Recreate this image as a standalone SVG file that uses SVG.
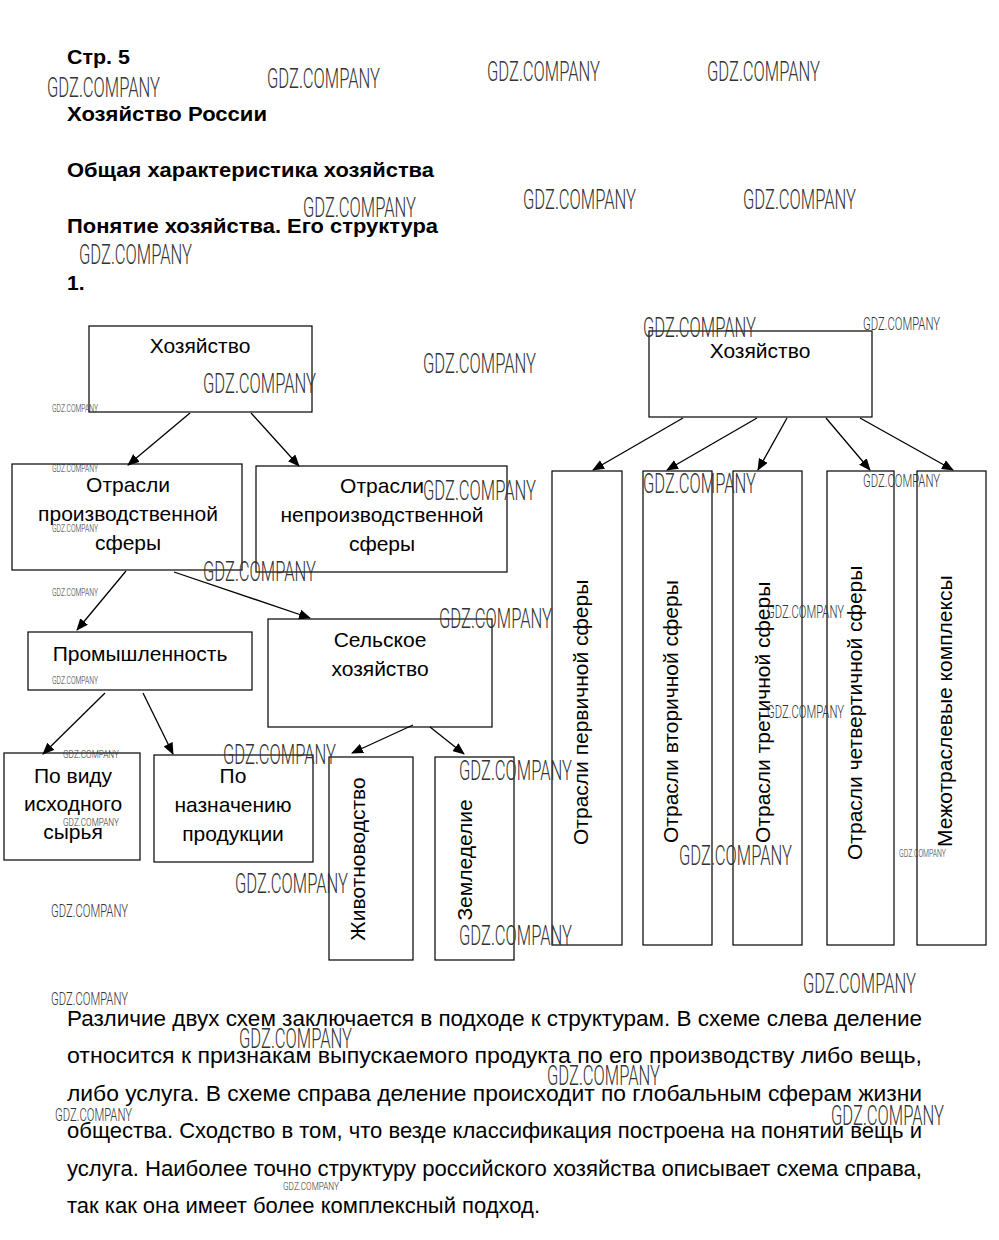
<svg xmlns="http://www.w3.org/2000/svg" width="999" height="1240" viewBox="0 0 999 1240">
<style>
.bg{fill:#fff}
.box{fill:none;stroke:#000;stroke-width:1.2}
.lbl{font-family:"Liberation Sans",Arial,sans-serif;font-size:21px;fill:#000;text-anchor:middle}
.vl{font-family:"Liberation Sans",Arial,sans-serif;font-size:21px;fill:#000}
.hd{font-family:"Liberation Sans",Arial,sans-serif;font-size:21px;font-weight:bold;fill:#000}
.p{font-family:"Liberation Sans",Arial,sans-serif;font-size:22px;fill:#000}
.wl{font-family:Roboto,"DejaVu Sans",sans-serif;font-weight:300;font-size:27px;fill:#333}
.wm{font-family:Roboto,"DejaVu Sans",sans-serif;font-weight:300;font-size:18px;fill:#333}
.ws{font-family:Roboto,"DejaVu Sans",sans-serif;font-weight:300;font-size:10px;fill:#333}
.conn line{stroke:#000;stroke-width:1.3;marker-end:url(#ah)}
</style>
<defs>
<marker id="ah" markerUnits="userSpaceOnUse" markerWidth="12" markerHeight="10" refX="11" refY="5" orient="auto">
<path d="M0,0 L12,5 L0,10 z" fill="#000"/>
</marker>
</defs>
<rect class="bg" x="0" y="0" width="999" height="1240"/>

<g id="header">
<text class="hd" x="67" y="64" textLength="63" lengthAdjust="spacingAndGlyphs">Стр. 5</text>
<text class="hd" x="67" y="121" textLength="200" lengthAdjust="spacingAndGlyphs">Хозяйство России</text>
<text class="hd" x="67" y="177" textLength="367" lengthAdjust="spacingAndGlyphs">Общая характеристика хозяйства</text>
<text class="hd" x="67" y="233" textLength="371" lengthAdjust="spacingAndGlyphs">Понятие хозяйства. Его структура</text>
<text class="hd" x="67" y="290">1.</text>
</g>

<g id="connectors" class="conn">
<line x1="190" y1="413" x2="128" y2="465"/>
<line x1="251" y1="413" x2="299" y2="466"/>
<line x1="126" y1="571" x2="77" y2="630"/>
<line x1="174" y1="572" x2="310" y2="618"/>
<line x1="105" y1="693" x2="43" y2="754"/>
<line x1="143" y1="693" x2="173" y2="754"/>
<line x1="413" y1="725" x2="352" y2="753"/>
<line x1="430" y1="727" x2="464" y2="754"/>
<line x1="683" y1="418" x2="593" y2="470"/>
<line x1="757" y1="418" x2="667" y2="470"/>
<line x1="787" y1="418" x2="758" y2="470"/>
<line x1="826" y1="418" x2="870" y2="470"/>
<line x1="860" y1="418" x2="953" y2="470"/>
</g>

<g id="n-hoz-left">
<rect class="box" x="89" y="326" width="223" height="86"/>
<text class="lbl" x="200" y="353">Хозяйство</text>
</g>
<g id="n-prod">
<rect class="box" x="12" y="464" width="230" height="106"/>
<text class="lbl" x="128" y="492">Отрасли</text>
<text class="lbl" x="128" y="521">производственной</text>
<text class="lbl" x="128" y="550">сферы</text>
</g>
<g id="n-neprod">
<rect class="box" x="256" y="466" width="251" height="106"/>
<text class="lbl" x="382" y="493">Отрасли</text>
<text class="lbl" x="382" y="522">непроизводственной</text>
<text class="lbl" x="382" y="551">сферы</text>
</g>
<g id="n-prom">
<rect class="box" x="28" y="632" width="224" height="58"/>
<text class="lbl" x="140" y="661">Промышленность</text>
</g>
<g id="n-selhoz">
<rect class="box" x="268" y="619" width="224" height="108"/>
<text class="lbl" x="380" y="647">Сельское</text>
<text class="lbl" x="380" y="676">хозяйство</text>
</g>
<g id="n-vid">
<rect class="box" x="4" y="753" width="136" height="107"/>
<text class="lbl" x="73" y="783">По виду</text>
<text class="lbl" x="73" y="811">исходного</text>
<text class="lbl" x="73" y="839">сырья</text>
</g>
<g id="n-naznach">
<rect class="box" x="154" y="755" width="159" height="107"/>
<text class="lbl" x="233" y="783">По</text>
<text class="lbl" x="233" y="812">назначению</text>
<text class="lbl" x="233" y="841">продукции</text>
</g>
<g id="n-zhivot">
<rect class="box" x="329" y="757" width="84" height="203"/>
<text class="vl" text-anchor="middle" transform="translate(365,859) rotate(-90)">Животноводство</text>
</g>
<g id="n-zemled">
<rect class="box" x="435" y="757" width="79" height="203"/>
<text class="vl" text-anchor="middle" transform="translate(472,860) rotate(-90)">Земледелие</text>
</g>

<g id="n-hoz-right">
<rect class="box" x="649" y="331" width="223" height="86"/>
<text class="lbl" x="760" y="358">Хозяйство</text>
</g>
<g id="n-perv">
<rect class="box" x="552" y="471" width="70" height="474"/>
<text class="vl" transform="translate(588,845) rotate(-90)">Отрасли первичной сферы</text>
</g>
<g id="n-vtor">
<rect class="box" x="643" y="471" width="69" height="474"/>
<text class="vl" transform="translate(678,843) rotate(-90)">Отрасли вторичной сферы</text>
</g>
<g id="n-tret">
<rect class="box" x="733" y="471" width="69" height="474"/>
<text class="vl" transform="translate(770,843) rotate(-90)">Отрасли третичной сферы</text>
</g>
<g id="n-chetv">
<rect class="box" x="827" y="471" width="67" height="474"/>
<text class="vl" transform="translate(862,860) rotate(-90)">Отрасли четвертичной сферы</text>
</g>
<g id="n-mezh">
<rect class="box" x="917" y="471" width="69" height="474"/>
<text class="vl" transform="translate(952,847) rotate(-90)">Межотраслевые комплексы</text>
</g>

<g id="paragraph">
<text class="p" x="67" y="1026" textLength="855" lengthAdjust="spacingAndGlyphs">Различие двух схем заключается в подходе к структурам. В схеме слева деление</text>
<text class="p" x="67" y="1063" textLength="855" lengthAdjust="spacingAndGlyphs">относится к признакам выпускаемого продукта по его производству либо вещь,</text>
<text class="p" x="67" y="1101" textLength="855" lengthAdjust="spacingAndGlyphs">либо услуга. В схеме справа деление происходит по глобальным сферам жизни</text>
<text class="p" x="67" y="1138" textLength="855" lengthAdjust="spacingAndGlyphs">общества. Сходство в том, что везде классификация построена на понятии вещь и</text>
<text class="p" x="67" y="1176" textLength="855" lengthAdjust="spacingAndGlyphs">услуга. Наиболее точно структуру российского хозяйства описывает схема справа,</text>
<text class="p" x="67" y="1213" textLength="473" lengthAdjust="spacingAndGlyphs">так как она имеет более комплексный подход.</text>
</g>

<g id="watermarks">
<text class="wl" x="47" y="97" textLength="113" lengthAdjust="spacingAndGlyphs">GDZ.COMPANY</text>
<text class="wl" x="267" y="88" textLength="113" lengthAdjust="spacingAndGlyphs">GDZ.COMPANY</text>
<text class="wl" x="487" y="81" textLength="113" lengthAdjust="spacingAndGlyphs">GDZ.COMPANY</text>
<text class="wl" x="707" y="81" textLength="113" lengthAdjust="spacingAndGlyphs">GDZ.COMPANY</text>
<text class="wl" x="303" y="217" textLength="113" lengthAdjust="spacingAndGlyphs">GDZ.COMPANY</text>
<text class="wl" x="523" y="209" textLength="113" lengthAdjust="spacingAndGlyphs">GDZ.COMPANY</text>
<text class="wl" x="743" y="209" textLength="113" lengthAdjust="spacingAndGlyphs">GDZ.COMPANY</text>
<text class="wl" x="79" y="264" textLength="113" lengthAdjust="spacingAndGlyphs">GDZ.COMPANY</text>
<text class="wl" x="643" y="337" textLength="113" lengthAdjust="spacingAndGlyphs">GDZ.COMPANY</text>
<text class="wl" x="423" y="373" textLength="113" lengthAdjust="spacingAndGlyphs">GDZ.COMPANY</text>
<text class="wl" x="203" y="393" textLength="113" lengthAdjust="spacingAndGlyphs">GDZ.COMPANY</text>
<text class="wl" x="423" y="500" textLength="113" lengthAdjust="spacingAndGlyphs">GDZ.COMPANY</text>
<text class="wl" x="643" y="493" textLength="113" lengthAdjust="spacingAndGlyphs">GDZ.COMPANY</text>
<text class="wl" x="203" y="581" textLength="113" lengthAdjust="spacingAndGlyphs">GDZ.COMPANY</text>
<text class="wl" x="439" y="628" textLength="113" lengthAdjust="spacingAndGlyphs">GDZ.COMPANY</text>
<text class="wl" x="223" y="764" textLength="113" lengthAdjust="spacingAndGlyphs">GDZ.COMPANY</text>
<text class="wl" x="459" y="780" textLength="113" lengthAdjust="spacingAndGlyphs">GDZ.COMPANY</text>
<text class="wl" x="679" y="865" textLength="113" lengthAdjust="spacingAndGlyphs">GDZ.COMPANY</text>
<text class="wl" x="235" y="893" textLength="113" lengthAdjust="spacingAndGlyphs">GDZ.COMPANY</text>
<text class="wl" x="459" y="945" textLength="113" lengthAdjust="spacingAndGlyphs">GDZ.COMPANY</text>
<text class="wl" x="803" y="993" textLength="113" lengthAdjust="spacingAndGlyphs">GDZ.COMPANY</text>
<text class="wl" x="239" y="1048" textLength="113" lengthAdjust="spacingAndGlyphs">GDZ.COMPANY</text>
<text class="wl" x="547" y="1085" textLength="113" lengthAdjust="spacingAndGlyphs">GDZ.COMPANY</text>
<text class="wl" x="831" y="1125" textLength="113" lengthAdjust="spacingAndGlyphs">GDZ.COMPANY</text>
<text class="wm" x="863" y="330" textLength="77" lengthAdjust="spacingAndGlyphs">GDZ.COMPANY</text>
<text class="wm" x="863" y="487" textLength="77" lengthAdjust="spacingAndGlyphs">GDZ.COMPANY</text>
<text class="wm" x="767" y="618" textLength="77" lengthAdjust="spacingAndGlyphs">GDZ.COMPANY</text>
<text class="wm" x="767" y="718" textLength="77" lengthAdjust="spacingAndGlyphs">GDZ.COMPANY</text>
<text class="wm" x="51" y="917" textLength="77" lengthAdjust="spacingAndGlyphs">GDZ.COMPANY</text>
<text class="wm" x="51" y="1005" textLength="77" lengthAdjust="spacingAndGlyphs">GDZ.COMPANY</text>
<text class="wm" x="55" y="1121" textLength="77" lengthAdjust="spacingAndGlyphs">GDZ.COMPANY</text>
<text class="ws" x="52" y="412" textLength="46" lengthAdjust="spacingAndGlyphs">GDZ.COMPANY</text>
<text class="ws" x="52" y="472" textLength="46" lengthAdjust="spacingAndGlyphs">GDZ.COMPANY</text>
<text class="ws" x="52" y="532" textLength="46" lengthAdjust="spacingAndGlyphs">GDZ.COMPANY</text>
<text class="ws" x="52" y="596" textLength="46" lengthAdjust="spacingAndGlyphs">GDZ.COMPANY</text>
<text class="ws" x="52" y="684" textLength="46" lengthAdjust="spacingAndGlyphs">GDZ.COMPANY</text>
<text class="ws" x="899" y="857" textLength="47" lengthAdjust="spacingAndGlyphs">GDZ.COMPANY</text>
<text class="ws" style="font-size:11px" x="63" y="758" textLength="56" lengthAdjust="spacingAndGlyphs">GDZ.COMPANY</text>
<text class="ws" style="font-size:11px" x="63" y="826" textLength="56" lengthAdjust="spacingAndGlyphs">GDZ.COMPANY</text>
<text class="ws" style="font-size:11px" x="283" y="1190" textLength="56" lengthAdjust="spacingAndGlyphs">GDZ.COMPANY</text>
</g>
</svg>
